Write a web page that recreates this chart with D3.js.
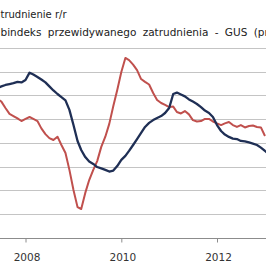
<!DOCTYPE html>
<html><head><meta charset="utf-8">
<script src="https://cdn.jsdelivr.net/npm/d3@7"></script>
<style>html,body{margin:0;padding:0;background:#fff;overflow:hidden}</style>
</head><body>
<svg id="c" width="266" height="266"></svg>
<script>
// Monthly data, Jun 2007 .. Feb 2013
const startMonth = [2007, 5]; // June 2007 (0-based month)
const employment = [2.31,2.38,2.44,2.48,2.52,2.57,2.55,2.65,2.96,2.88,2.78,2.67,2.55,2.38,2.21,2.06,1.93,1.79,1.39,0.75,0.08,-0.30,-0.60,-0.79,-0.89,-1.02,-1.08,-1.14,-1.21,-1.17,-0.98,-0.72,-0.55,-0.34,-0.09,0.16,0.42,0.67,0.84,0.96,1.05,1.13,1.26,1.47,2.06,2.12,2.04,1.96,1.83,1.74,1.64,1.51,1.36,1.26,1.09,0.75,0.50,0.35,0.25,0.18,0.16,0.08,0.06,0.02,-0.03,-0.09,-0.20,-0.34,-0.47];
const subindex = [1.85,1.74,1.47,1.22,1.13,1.03,0.92,1.01,1.09,1.01,0.92,0.61,0.37,0.20,0.12,0.26,-0.09,-0.43,-1.14,-1.99,-2.71,-2.79,-2.11,-1.57,-1.14,-0.77,-0.17,0.26,0.80,1.55,2.23,2.99,3.58,3.49,3.30,3.07,2.69,2.57,2.46,2.10,1.81,1.68,1.60,1.51,1.53,1.30,1.24,1.34,1.20,0.96,0.90,0.92,1.01,1.01,0.90,0.82,0.75,0.82,0.88,0.75,0.67,0.75,0.65,0.71,0.73,0.67,0.65,0.29];
const gridValues = [-4,-3,-2,-1,0,1,2,3,4];
const yearTicks = [2008, 2010, 2012];
const legendLabels = ["Zatrudnienie r/r", "Subindeks przewidywanego zatrudnienia - GUS (prawa oś)"];

const svg = d3.select("#c");
const x = d3.scaleTime().domain([new Date(2008,0,1), new Date(2012,0,1)]).range([25.5, 217]);
const y = d3.scaleLinear().domain([-4, 4]).range([237.7, 48]);
const date = i => new Date(startMonth[0], startMonth[1] + i, 1);

svg.append("defs").append("clipPath").attr("id","clip")
  .append("rect").attr("x",0).attr("y",40).attr("width",266).attr("height",200);

// gridlines
svg.append("g").selectAll("line").data(gridValues.slice(1)).join("line")
  .attr("x1",0).attr("x2",266)
  .attr("y1",d=>Math.round(y(d))+0.5).attr("y2",d=>Math.round(y(d))+0.5)
  .attr("stroke","#c4c4c4").attr("stroke-width",1);

// x axis
const xAxis = d3.axisBottom(x).tickValues(yearTicks.map(v=>new Date(v,0,1)))
  .tickFormat(d3.timeFormat("%Y")).tickSize(4).tickSizeOuter(0);
const gx = svg.append("g").attr("transform",`translate(0,${Math.round(y(-4))+0.5})`).call(xAxis);
gx.select(".domain").attr("d","M0,0H266").attr("stroke","#8c8c8c");
gx.selectAll(".tick line").attr("stroke","#8c8c8c");
gx.selectAll(".tick text").attr("dy","0").attr("y",22).attr("dx","1")
  .attr("font-family","DejaVu Sans, Verdana, sans-serif").attr("font-size","10.5px").attr("fill","#333");

const line = d3.line().x((d,i)=>x(date(i))).y(d=>y(d)).curve(d3.curveLinear);
const g = svg.append("g").attr("clip-path","url(#clip)");
g.append("path").datum(subindex).attr("d",line).attr("fill","none")
  .attr("stroke","#c0504d").attr("stroke-width",2).attr("stroke-linejoin","round");
g.append("path").datum(employment).attr("d",line).attr("fill","none")
  .attr("stroke","#1f2f55").attr("stroke-width",2.3).attr("stroke-linejoin","round");

// legend text (cropped on the left, as in the reference)
const prefixes = [2, 2];
const baselines = [18.3, 36.2];
const sizes = ["10px", "10.5px"];
const wordSpacing = [0, 3];
legendLabels.forEach((t,i)=>{
  const tx = svg.append("text").attr("y",baselines[i]).attr("x",0)
    .attr("font-family","DejaVu Sans, Verdana, sans-serif").attr("font-size",sizes[i])
    .attr("word-spacing",wordSpacing[i])
    .attr("fill","#222").text(t);
  const w = tx.node().getSubStringLength(0, prefixes[i]);
  tx.attr("x", 0.5 - w);
});
</script>
</body></html>
